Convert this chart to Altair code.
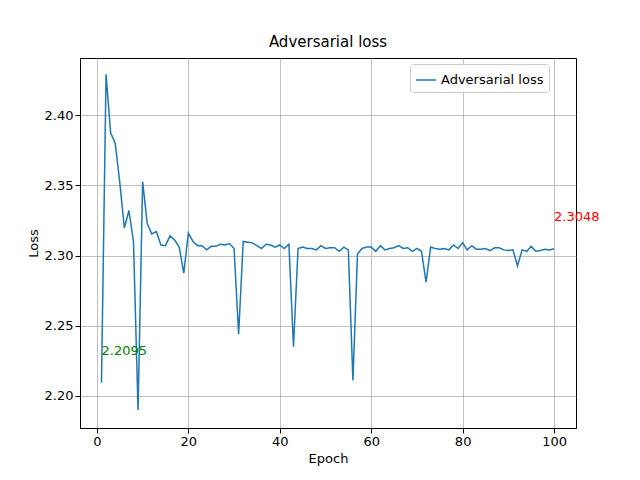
import pandas as pd
import altair as alt

loss = [2.2095, 2.429, 2.3874, 2.380, 2.352, 2.3196, 2.332, 2.310, 2.190, 2.3526,
        2.323, 2.3153, 2.317, 2.3075, 2.307, 2.314, 2.311, 2.306, 2.2875, 2.316,
        2.310, 2.307, 2.307, 2.304, 2.3065, 2.3065, 2.308, 2.3075, 2.3085, 2.305,
        2.244, 2.310, 2.3095, 2.309, 2.307, 2.305, 2.308, 2.3075, 2.306, 2.3075,
        2.305, 2.308, 2.235, 2.305, 2.306, 2.305, 2.305, 2.304, 2.307, 2.305,
        2.3055, 2.3055, 2.303, 2.306, 2.304, 2.211, 2.301, 2.305, 2.306, 2.306,
        2.303, 2.307, 2.304, 2.305, 2.3055, 2.307, 2.305, 2.3055, 2.303, 2.305,
        2.303, 2.281, 2.306, 2.305, 2.3045, 2.305, 2.304, 2.3075, 2.305, 2.309,
        2.304, 2.307, 2.3045, 2.3045, 2.305, 2.3035, 2.3055, 2.3055, 2.304, 2.3035,
        2.304, 2.2925, 2.304, 2.303, 2.3065, 2.303, 2.3035, 2.3045, 2.304, 2.3048]
epochs = list(range(1, len(loss) + 1))

df = pd.DataFrame({"Epoch": epochs, "Loss": loss, "series": "Adversarial loss"})
marks = pd.DataFrame({"Epoch": [1, 100], "Loss": [2.2095, 2.3048],
                      "label": ["2.2095", "2.3048"], "col": ["green", "red"]})

font = "DejaVu Sans"
xs = alt.Scale(domain=[-3.7, 104.8], nice=False, zero=False)
ys = alt.Scale(domain=[2.1772, 2.4406], nice=False, zero=False)

line = alt.Chart(df).mark_line(strokeWidth=1.5).encode(
    x=alt.X("Epoch:Q", scale=xs, axis=alt.Axis(values=[0, 20, 40, 60, 80, 100], title="Epoch")),
    y=alt.Y("Loss:Q", scale=ys, axis=alt.Axis(values=[2.20, 2.25, 2.30, 2.35, 2.40], format=".2f", title="Loss")),
    color=alt.Color("series:N", scale=alt.Scale(range=["#1f77b4"]),
                    legend=alt.Legend(title=None, orient="none", legendX=330, legendY=6,
                                      symbolType="stroke", symbolSize=400, symbolStrokeWidth=1.5,
                                      labelFontSize=13, labelFont=font, padding=5,
                                      strokeColor="#cccccc", fillColor="white", cornerRadius=3)),
)

text = alt.Chart(marks).mark_text(align="left", baseline="bottom", fontSize=13, font=font, dy=-25).encode(
    x="Epoch:Q", y="Loss:Q", text="label:N",
    color=alt.Color("col:N", scale=None),
)

chart = (line + text).properties(
    width=496, height=370,
    title=alt.Title("Adversarial loss", font=font, fontSize=15, fontWeight="normal"),
    autosize=alt.AutoSizeParams(type="none"),
    padding={"left": 72, "top": 50, "right": 56, "bottom": 44},
).configure_axis(
    grid=True, gridColor="#b0b0b0", gridWidth=0.8, domainColor="black", tickColor="black",
    labelFont=font, titleFont=font, labelFontSize=13, titleFontSize=13,
    titleFontWeight="normal", labelColor="black", titleColor="black",
).configure_view(stroke="black", strokeWidth=1).configure_title(offset=8)

chart.save("out.html", embed_options={"renderer": "svg", "actions": False})
